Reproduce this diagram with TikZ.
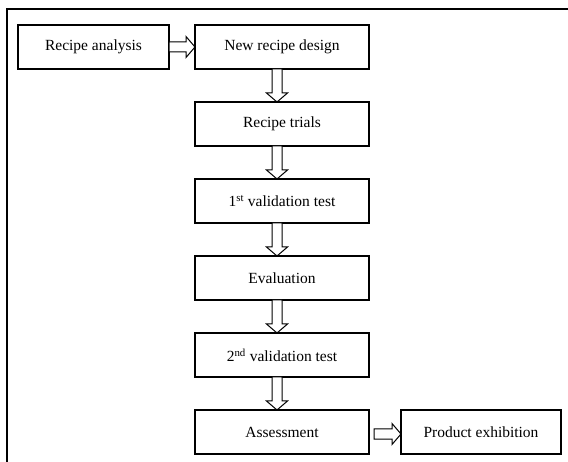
\documentclass[tikz,border=0pt]{standalone}
\usepackage{fontspec}
\setmainfont{Liberation Serif}
\usetikzlibrary{positioning,calc}

\tikzset{
        stepbox/.style={draw, line width=1.1pt, minimum width=174pt, minimum height=44pt,
                inner sep=0pt, outer sep=0pt, font=\fontsize{15.5}{18}\selectfont},
        blockarrow/.style={draw, line width=1pt, fill=white, to path={
                        ($(\tikztostart)!5pt!90:(\tikztotarget)$)
                        -- ($(\tikztotarget)!9pt!(\tikztostart)!5pt!-90:(\tikztostart)$)
                        -- ($(\tikztotarget)!9pt!(\tikztostart)!10.5pt!-90:(\tikztostart)$)
                        -- (\tikztotarget)
                        -- ($(\tikztotarget)!9pt!(\tikztostart)!10.5pt!90:(\tikztostart)$)
                        -- ($(\tikztotarget)!9pt!(\tikztostart)!5pt!90:(\tikztostart)$)
                        -- ($(\tikztostart)!5pt!-90:(\tikztotarget)$) -- cycle}}
}

\begin{document}
\begin{tikzpicture}[x=1pt,y=1pt]
        \useasboundingbox (0,0) rectangle (568,-462);

        % frame
        \draw[line width=1.6pt] (7,-462) -- (7,-9) -- (568,-9);

        % main column
        \node[stepbox] (design) at (282,-47) {New recipe design};
        \node[stepbox, below=33pt of design] (trials) {Recipe trials};
        \node[stepbox, below=33pt of trials] (valid1) {1\textsuperscript{st} validation test};
        \node[stepbox, below=33pt of valid1] (eval) {Evaluation};
        \node[stepbox, below=33pt of eval] (valid2) {2\textsuperscript{nd} validation test};
        \node[stepbox, below=33pt of valid2] (assess) {Assessment};

        % side boxes
        \node[stepbox, minimum width=151pt, left=26pt of design] (analysis) {Recipe analysis};
        \node[stepbox, minimum width=160pt, right=32pt of assess] (product) {Product exhibition};

        % arrows
        \draw[blockarrow] (analysis.east) to (design.west);
        \draw[blockarrow] ([xshift=-5pt]design.south) to ([xshift=-5pt]trials.north);
        \draw[blockarrow] ([xshift=-5pt]trials.south) to ([xshift=-5pt]valid1.north);
        \draw[blockarrow] ([xshift=-5pt]valid1.south) to ([xshift=-5pt]eval.north);
        \draw[blockarrow] ([xshift=-5pt]eval.south) to ([xshift=-5pt]valid2.north);
        \draw[blockarrow] ([xshift=-5pt]valid2.south) to ([xshift=-5pt]assess.north);
        \draw[blockarrow] ([xshift=5pt,yshift=-2pt]assess.east) to ([yshift=-2pt]product.west);

\end{tikzpicture}
\end{document}
